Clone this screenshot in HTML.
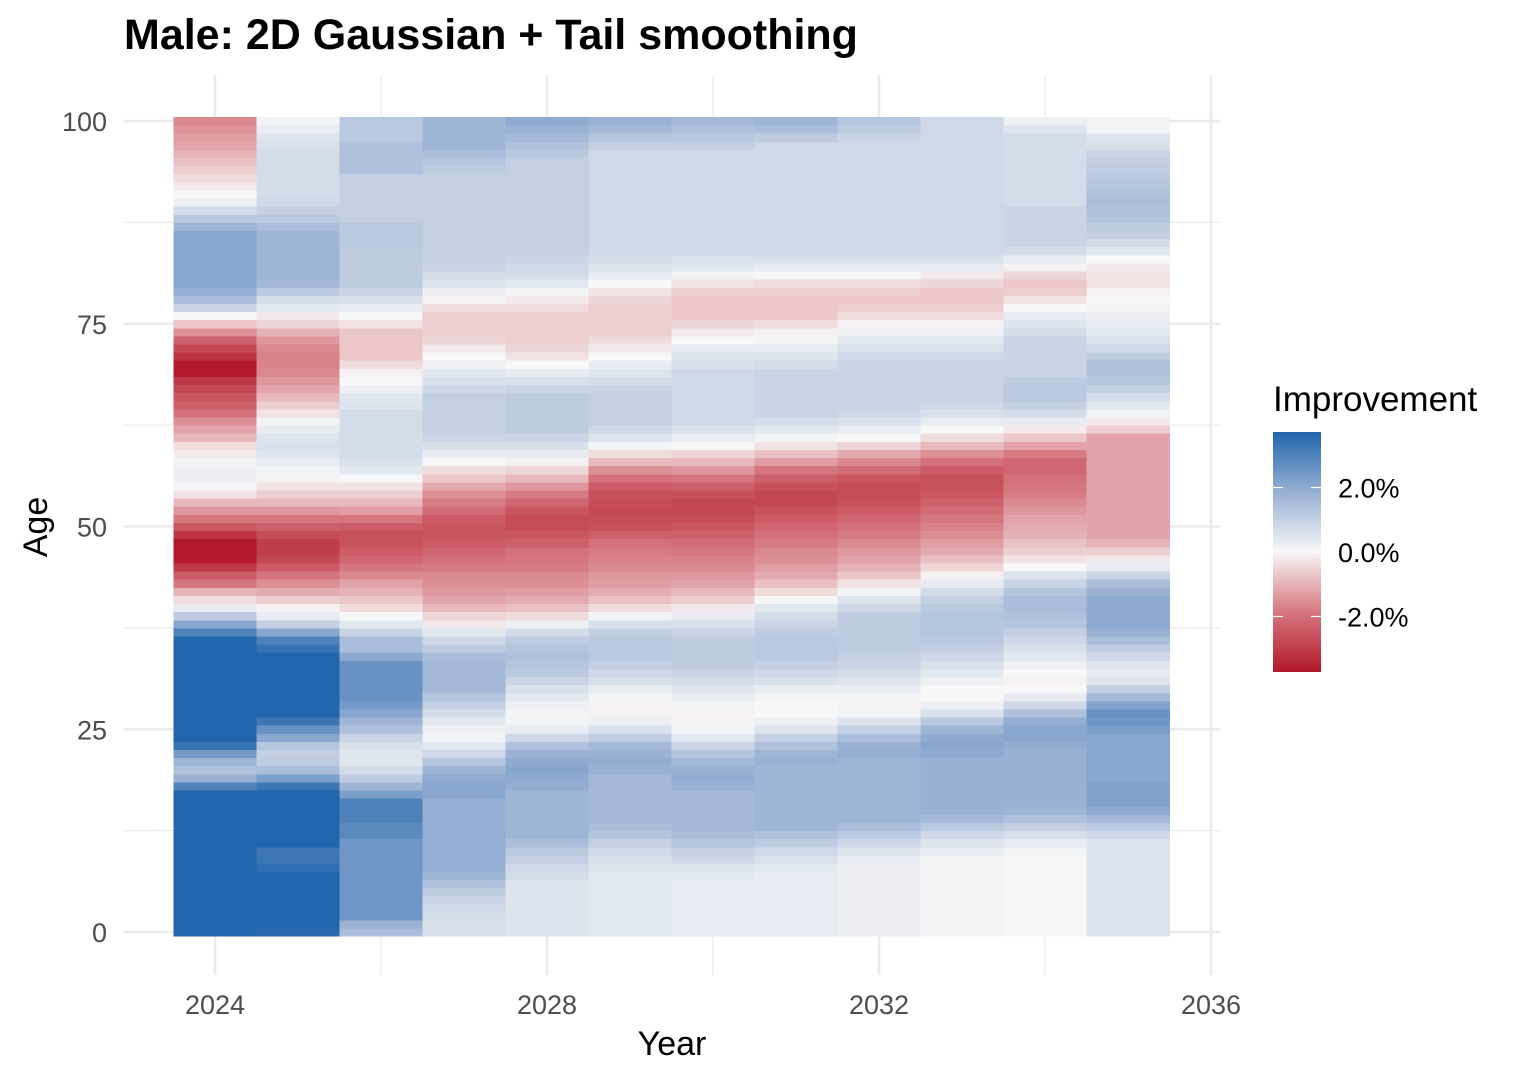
<!DOCTYPE html>
<html><head><meta charset="utf-8"><style>
html,body{margin:0;padding:0;background:#fff;}
svg text{font-family:"Liberation Sans",Arial,sans-serif;}
</style></head><body>
<svg id="chart" width="1520" height="1080" viewBox="0 0 1520 1080" xmlns="http://www.w3.org/2000/svg">
<defs><linearGradient id="lg" x1="0" y1="1" x2="0" y2="0">
<stop offset="0" stop-color="#B2182B"/><stop offset="0.25" stop-color="#D6777F"/><stop offset="0.5" stop-color="#F7F7F7"/><stop offset="0.75" stop-color="#97AFD3"/><stop offset="1" stop-color="#2166AC"/></linearGradient></defs>
<rect width="1520" height="1080" fill="#fff"/>
<g id="grid"></g>
<g id="cells"></g>
<g id="axes"></g>
<text x="124" y="49" font-size="43" font-weight="bold" fill="#000">Male: 2D Gaussian + Tail smoothing</text>
<text x="672" y="1055" font-size="34" text-anchor="middle" fill="#000">Year</text>
<text x="0" y="0" font-size="34" text-anchor="middle" fill="#000" transform="translate(47,527) rotate(-90)">Age</text>
<g>
<text x="1273" y="411" font-size="35" fill="#000">Improvement</text>
<rect x="1273" y="432" width="48" height="240" fill="url(#lg)"/>
<g id="legendticks"></g>
</g>
</svg>
<script>
const years=[2024,2025,2026,2027,2028,2029,2030,2031,2032,2033,2034,2035];
const xTicks=[2024,2028,2032,2036];
const yTicks=[0,25,50,75,100];
const legendTicks=[2,0,-2];
const legendLabels=["2.0%","0.0%","-2.0%"];
const v2024=[4.5,4.5,4.5,4.5,4.5,4.5,4.5,4.5,4.5,4.5,
4.5,4.5,4.5,4.5,4.5,4.5,4.5,4.5,3.0,1.8,
1.4,1.7,2.4,3.4,4.5,4.5,4.5,4.5,4.5,4.5,
4.5,4.5,4.5,4.5,4.5,4.5,4.5,3.0,2.1,1.1,
0.3,-0.4,-1.0,-1.9,-2.4,-3.1,-3.7,-3.7,-3.7,-3.2,
-2.5,-1.9,-1.4,-0.9,-0.3,0.05,0.2,0.2,0.1,-0.2,
-0.4,-0.9,-1.2,-1.5,-2.0,-2.3,-2.5,-2.8,-3.1,-3.7,
-3.7,-3.2,-2.8,-2.3,-1.5,-0.7,0.0,0.9,1.5,1.9,
2.1,2.1,2.1,2.1,2.1,2.1,2.1,1.7,1.2,0.7,
0.2,0.0,-0.2,-0.4,-0.6,-0.8,-1.0,-1.2,-1.3,-1.45,-1.6];
const v2025=[3.6,4.5,4.5,4.5,4.5,4.5,4.5,4.5,3.5,3.3,
3.3,4.5,4.5,4.5,4.5,4.5,4.5,4.5,3.3,2.3,
1.5,1.1,1.0,1.3,2.1,2.6,3.3,4.5,4.5,4.5,
4.5,4.5,4.5,4.5,4.0,3.4,3.0,2.1,1.0,0.3,
-0.1,-0.6,-1.1,-1.5,-1.9,-2.4,-2.8,-3.0,-3.0,-2.7,
-2.3,-1.9,-1.4,-0.9,-0.6,-0.3,-0.1,0.1,0.3,0.5,
0.6,0.5,0.3,0.1,-0.3,-0.6,-0.9,-1.2,-1.4,-1.6,
-1.7,-1.7,-1.6,-1.4,-1.0,-0.5,-0.2,0.4,0.7,1.2,
1.6,1.7,1.7,1.7,1.7,1.7,1.7,1.5,1.2,1.0,
0.8,0.7,0.7,0.7,0.7,0.7,0.7,0.6,0.5,0.3,0.1];
const v2026=[1.5,1.8,2.5,2.5,2.5,2.5,2.5,2.5,2.5,2.5,
2.5,2.5,2.8,2.8,3.0,3.0,3.0,2.3,1.7,1.1,
0.7,0.45,0.45,0.6,0.9,1.4,1.7,2.1,2.4,2.6,
2.6,2.6,2.6,2.6,2.0,1.5,1.5,0.9,0.4,0.0,
-0.4,-0.7,-1.0,-1.2,-1.6,-1.9,-2.2,-2.4,-2.6,-2.6,
-2.4,-1.9,-1.3,-0.9,-0.6,-0.3,0.0,0.4,0.6,0.7,
0.7,0.7,0.7,0.7,0.7,0.5,0.4,0.2,0.0,-0.1,
-0.4,-0.7,-0.7,-0.7,-0.7,-0.3,0.0,0.3,0.6,0.9,
1.1,1.1,1.1,1.1,1.1,1.2,1.2,1.2,1.0,1.0,
1.0,1.0,1.0,1.0,1.4,1.4,1.4,1.4,1.2,1.2,1.2];
const v2027=[0.6,0.6,0.7,0.8,0.9,1.1,1.4,1.7,1.9,1.9,
1.9,1.9,1.9,1.9,1.9,1.9,1.9,2.1,2.1,2.0,
1.7,1.3,0.8,0.4,0.1,0.2,0.4,0.7,1.0,1.3,
1.6,1.6,1.6,1.6,1.5,1.1,0.8,0.4,-0.2,-0.5,
-0.9,-1.2,-1.4,-1.5,-1.6,-1.8,-2.0,-2.2,-2.4,-2.5,
-2.5,-2.4,-2.1,-1.8,-1.5,-1.1,-0.7,-0.4,0.0,0.3,
0.6,0.9,1.0,1.0,1.0,1.0,1.0,0.8,0.6,0.4,
0.2,0.0,-0.2,-0.5,-0.6,-0.6,-0.6,-0.4,-0.1,0.2,
0.5,0.7,0.9,1.0,1.0,1.0,1.0,1.0,1.0,1.0,
1.0,1.0,1.0,1.0,1.1,1.3,1.5,1.7,1.7,1.7,1.7];
const v2028=[0.5,0.5,0.5,0.5,0.5,0.5,0.5,0.7,0.8,1.0,
1.2,1.5,1.7,1.7,1.7,1.7,1.7,1.7,1.9,2.0,
2.1,2.0,1.8,1.4,0.8,0.3,0.1,0.1,0.2,0.4,
0.6,0.9,1.2,1.3,1.4,1.3,1.1,0.7,0.2,-0.4,
-0.8,-1.1,-1.3,-1.5,-1.6,-1.8,-1.9,-2.0,-2.3,-2.5,
-2.7,-2.7,-2.5,-2.2,-1.8,-1.4,-0.9,-0.5,-0.1,0.3,
0.6,0.9,1.1,1.1,1.1,1.1,1.1,0.9,0.6,0.3,
0.0,-0.3,-0.5,-0.6,-0.6,-0.6,-0.6,-0.4,-0.2,0.1,
0.4,0.7,0.8,0.9,1.0,1.0,1.0,1.0,1.0,1.0,
1.0,1.0,1.0,1.0,1.0,1.0,1.2,1.4,1.6,1.8,2.0];
const v2029=[0.4,0.4,0.4,0.4,0.4,0.4,0.4,0.4,0.5,0.6,
0.8,1.0,1.3,1.5,1.6,1.6,1.6,1.6,1.6,1.6,
1.8,1.9,1.8,1.6,1.1,0.6,0.2,-0.1,-0.1,0.1,
0.3,0.6,0.8,1.0,1.2,1.2,1.2,1.0,0.6,0.1,
-0.4,-0.8,-1.1,-1.3,-1.4,-1.6,-1.7,-1.8,-2.0,-2.3,
-2.6,-2.7,-2.8,-2.7,-2.6,-2.4,-2.0,-1.5,-0.9,-0.4,
0.1,0.5,0.8,1.0,1.0,1.0,1.0,0.9,0.7,0.5,
0.3,0.0,-0.2,-0.4,-0.6,-0.6,-0.6,-0.6,-0.5,-0.3,
0.0,0.3,0.5,0.7,0.8,0.8,0.8,0.8,0.8,0.8,
0.8,0.8,0.8,0.8,0.8,0.8,0.8,1.0,1.3,1.6,1.8];
const v2030=[0.3,0.3,0.3,0.3,0.3,0.3,0.3,0.4,0.5,0.8,
1.0,1.3,1.5,1.6,1.6,1.6,1.6,1.6,1.8,1.9,
1.8,1.6,1.3,0.9,0.4,0.1,-0.1,-0.1,0.1,0.3,
0.5,0.7,0.9,1.1,1.1,1.1,1.1,0.9,0.6,0.3,
-0.2,-0.6,-0.9,-1.2,-1.4,-1.6,-1.7,-1.9,-2.1,-2.3,
-2.5,-2.7,-2.8,-2.8,-2.6,-2.3,-1.9,-1.4,-0.9,-0.5,
0.0,0.3,0.6,0.8,0.8,0.8,0.8,0.8,0.8,0.8,
0.6,0.5,0.3,0.0,-0.2,-0.5,-0.7,-0.7,-0.7,-0.6,
-0.3,0.1,0.4,0.6,0.8,0.8,0.8,0.8,0.8,0.8,
0.8,0.8,0.8,0.8,0.8,0.8,0.8,1.0,1.2,1.4,1.6];
const v2031=[0.3,0.3,0.3,0.3,0.3,0.3,0.3,0.3,0.4,0.6,
0.8,1.1,1.4,1.7,1.7,1.7,1.7,1.7,1.7,1.7,
1.7,1.8,1.7,1.4,1.0,0.5,0.2,0.0,0.0,0.1,
0.3,0.6,0.8,1.0,1.2,1.2,1.2,1.1,0.9,0.7,
0.4,0.0,-0.4,-0.8,-1.1,-1.3,-1.5,-1.6,-1.8,-2.0,
-2.2,-2.4,-2.6,-2.8,-2.8,-2.6,-2.3,-1.9,-1.3,-0.8,
-0.3,0.1,0.4,0.7,0.9,0.9,0.9,0.9,0.9,0.9,
0.7,0.5,0.3,0.1,-0.1,-0.4,-0.7,-0.7,-0.7,-0.6,
-0.4,0.0,0.3,0.6,0.8,0.8,0.8,0.8,0.8,0.8,
0.8,0.8,0.8,0.8,0.8,0.8,0.8,0.8,1.1,1.5,1.7];
const v2032=[0.2,0.2,0.2,0.2,0.2,0.2,0.2,0.2,0.2,0.3,
0.5,0.8,1.2,1.5,1.7,1.7,1.7,1.7,1.7,1.7,
1.7,1.7,1.9,1.8,1.5,1.0,0.5,0.1,-0.1,0.1,
0.3,0.5,0.7,0.9,1.0,1.1,1.1,1.1,1.1,1.1,
0.8,0.5,0.1,-0.3,-0.7,-1.0,-1.2,-1.4,-1.6,-1.8,
-2.0,-2.2,-2.4,-2.6,-2.7,-2.7,-2.5,-2.1,-1.6,-1.1,
-0.5,0.0,0.3,0.6,0.8,0.9,0.9,0.9,0.9,0.9,
0.9,0.8,0.6,0.4,0.2,-0.1,-0.4,-0.6,-0.7,-0.6,
-0.4,0.0,0.3,0.6,0.8,0.8,0.8,0.8,0.8,0.8,
0.8,0.8,0.8,0.8,0.8,0.8,0.8,0.8,0.9,1.1,1.3];
const v2033=[0.1,0.1,0.1,0.1,0.1,0.1,0.1,0.1,0.1,0.1,
0.3,0.5,0.8,1.2,1.6,1.8,1.8,1.8,1.8,1.8,
1.8,1.8,2.0,2.1,2.0,1.7,1.2,0.6,0.2,0.0,
0.0,0.2,0.4,0.6,0.8,1.0,1.2,1.3,1.3,1.3,
1.2,1.0,0.7,0.3,-0.1,-0.5,-0.8,-1.1,-1.3,-1.5,
-1.7,-1.9,-2.1,-2.3,-2.5,-2.6,-2.6,-2.4,-2.0,-1.5,
-0.9,-0.4,0.0,0.3,0.6,0.8,0.9,0.9,0.9,0.9,
0.9,0.8,0.6,0.4,0.2,-0.1,-0.4,-0.6,-0.7,-0.7,
-0.5,-0.2,0.3,0.6,0.8,0.8,0.8,0.8,0.8,0.8,
0.8,0.8,0.8,0.8,0.8,0.8,0.8,0.8,0.8,0.8,0.8];
const v2034=[0.0,0.0,0.0,0.0,0.0,0.0,0.0,0.0,0.0,0.0,
0.1,0.3,0.6,1.0,1.4,1.7,1.8,1.8,1.8,1.8,
1.8,1.8,1.8,1.9,2.1,2.1,1.9,1.4,0.8,0.3,
0.0,-0.1,0.0,0.2,0.4,0.6,0.8,1.0,1.3,1.4,
1.5,1.5,1.3,0.9,0.5,0.0,-0.3,-0.6,-0.8,-1.0,
-1.1,-1.2,-1.4,-1.6,-1.8,-1.9,-2.0,-2.2,-2.2,-1.8,
-1.2,-0.7,-0.2,0.3,0.7,1.0,1.2,1.2,1.1,0.9,
0.9,0.9,0.9,0.9,0.7,0.5,0.3,0.0,-0.3,-0.6,
-0.7,-0.5,-0.1,0.3,0.7,0.9,0.9,0.9,0.9,0.9,
0.7,0.7,0.7,0.7,0.7,0.7,0.7,0.7,0.7,0.5,0.2];
const v2035=[0.5,0.5,0.5,0.5,0.5,0.5,0.5,0.5,0.5,0.5,
0.5,0.5,0.8,1.2,1.6,2.0,2.2,2.2,2.2,2.1,
2.1,2.1,2.1,2.1,2.1,2.3,2.5,2.6,2.2,1.6,
1.0,0.5,0.3,0.5,0.8,1.1,1.5,1.8,2.0,2.0,
2.0,2.0,1.8,1.5,0.9,0.3,-0.2,-0.6,-1.0,-1.2,
-1.2,-1.2,-1.2,-1.2,-1.2,-1.2,-1.2,-1.2,-1.2,-1.2,
-1.2,-1.2,-0.6,-0.2,0.1,0.4,0.7,1.0,1.3,1.4,
1.4,1.1,0.8,0.6,0.4,0.3,0.2,0.1,0.0,-0.1,
-0.3,-0.3,-0.2,0.0,0.4,0.7,1.0,1.1,1.3,1.4,
1.5,1.4,1.3,1.2,1.1,1.0,0.9,0.6,0.5,0.1,0.1];
const series=[v2024,v2025,v2026,v2027,v2028,v2029,v2030,v2031,v2032,v2033,v2034,v2035];

const NS="http://www.w3.org/2000/svg";
const X0=215, XPY=83;
const Y0=932, YPA=8.11;
const LIM=3.72;
const xScale=y=>X0+(y-2024)*XPY;
const yScale=a=>Y0-a*YPA;
const lScale=v=>552-v*32.25;
function hex(c){return [parseInt(c.slice(1,3),16),parseInt(c.slice(3,5),16),parseInt(c.slice(5,7),16)];}
const stops=[[-1,hex("#B2182B")],[-0.5,hex("#D6777F")],[0,hex("#F7F7F7")],[0.5,hex("#97AFD3")],[1,hex("#2166AC")]];
function color(v){
  let t=Math.max(-1,Math.min(1,v/LIM));
  for(let i=0;i<stops.length-1;i++){
    const [a,ca]=stops[i],[b,cb]=stops[i+1];
    if(t<=b){const f=(t-a)/(b-a);return "rgb("+ca.map((c,k)=>Math.round(c+(cb[k]-c)*f)).join(",")+")";}
  }
  return "rgb(33,102,172)";
}
function mk(tag,attrs,parent){const e=document.createElementNS(NS,tag);for(const k in attrs)e.setAttribute(k,attrs[k]);parent.appendChild(e);return e;}
const grid=document.getElementById('grid');
[2026,2030,2034].forEach(y=>{
  const l=mk('line',{x1:xScale(y),x2:xScale(y),y1:75,y2:975,stroke:'#EBEBEB','stroke-width':1.3},grid);
  
  
});
[12.5,37.5,62.5,87.5].forEach(a=>{
  const l=mk('line',{x1:124,x2:1220,y1:yScale(a),y2:yScale(a),stroke:'#EBEBEB','stroke-width':1.3},grid);
  
  
});
xTicks.forEach(y=>{
  const l=mk('line',{x1:xScale(y),x2:xScale(y),y1:75,y2:975,stroke:'#EBEBEB','stroke-width':2.6},grid);
  
  
});
yTicks.forEach(a=>{
  const l=mk('line',{x1:124,x2:1220,y1:yScale(a),y2:yScale(a),stroke:'#EBEBEB','stroke-width':2.6},grid);
  
  
});
const cells=document.getElementById('cells');
series.forEach((col,i)=>{
  const yr=years[i];
  col.forEach((v,age)=>{
    const r=mk('rect',{x:xScale(yr-0.5),y:yScale(age+0.5),width:XPY+0.4,height:YPA+0.5,fill:color(v),'shape-rendering':'crispEdges'},cells);
    
    
  });
});
const axes=document.getElementById('axes');
xTicks.forEach(y=>{
  const t=mk('text',{x:xScale(y),y:1014,'font-size':27,'text-anchor':'middle',fill:'#4D4D4D'},axes);
  t.textContent=y;
  
  
});
yTicks.forEach(a=>{
  const t=mk('text',{x:107,y:yScale(a)+10,'font-size':27,'text-anchor':'end',fill:'#4D4D4D'},axes);
  t.textContent=a;
  
  
});
const lt=document.getElementById('legendticks');
legendTicks.forEach((v,i)=>{
  const y=lScale(v);
  mk('line',{x1:1273,x2:1283,y1:y,y2:y,stroke:'#fff','stroke-width':1.2},lt);
  mk('line',{x1:1311,x2:1321,y1:y,y2:y,stroke:'#fff','stroke-width':1.2},lt);
  const t=mk('text',{x:1338,y:y+10,'font-size':27,fill:'#000'},lt);
  t.textContent=legendLabels[i];
  
  
});
</script>
</body></html>
